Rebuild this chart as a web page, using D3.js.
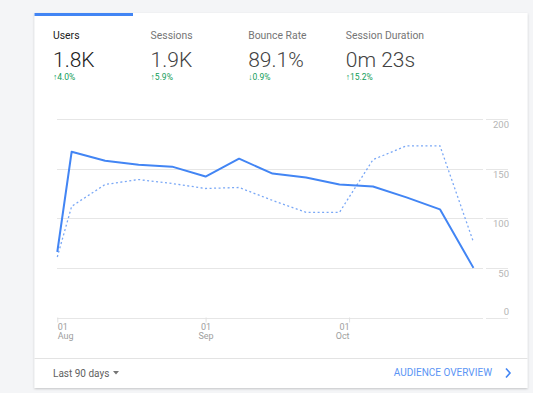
<!DOCTYPE html>
<html>
<head>
<meta charset="utf-8">
<script src="https://cdn.jsdelivr.net/npm/d3@7"></script>
<style>
  body { margin: 0; background: #f4f5f7; }
  svg { display: block; font-family: Roboto, "Noto Sans", sans-serif; }
</style>
</head>
<body>
<svg></svg>
<script>
// metric tiles
const metricNames = ['Users', 'Sessions', 'Bounce Rate', 'Session Duration'];
const metricValues = ['1.8K', '1.9K', '89.1%', '0m 23s'];
const metricChanges = ['4.0%', '5.9%', '0.9%', '15.2%'];
const metricUp = [true, true, false, true];

// weekly points, last 90 days
const dates = ['2019-08-01', '2019-08-04', '2019-08-11', '2019-08-18', '2019-08-25',
  '2019-09-01', '2019-09-08', '2019-09-15', '2019-09-22', '2019-09-29',
  '2019-10-06', '2019-10-13', '2019-10-20', '2019-10-27'];
const usersCurrent = [66, 167, 158, 154, 152, 142, 160, 145, 141, 134, 132, 121, 109, 50];
const usersPrevious = [61, 112, 134, 139, 135, 130, 131, 118, 106, 106, 159, 173, 173, 76];

const yTicks = [0, 50, 100, 150, 200];
const xTicks = ['2019-08-01', '2019-09-01', '2019-10-01'];
const xTickAnchors = ['start', 'middle', 'end'];

const width = 533;
const height = 393;
const svg = d3.select('svg')
  .attr('width', width)
  .attr('height', height);

const parse = d3.timeParse('%Y-%m-%d');

// card
const defs = svg.append('defs');
const shadow = defs.append('filter').attr('id', 'shadow')
  .attr('x', '-5%').attr('y', '-5%').attr('width', '110%').attr('height', '110%');
shadow.append('feDropShadow')
  .attr('dx', 0).attr('dy', 1).attr('stdDeviation', 1)
  .attr('flood-color', '#000').attr('flood-opacity', 0.2);

svg.append('rect')
  .attr('x', 34.5).attr('y', 13)
  .attr('width', 493).attr('height', 375)
  .attr('fill', '#fff')
  .attr('filter', 'url(#shadow)');

svg.append('rect')
  .attr('x', 34.5).attr('y', 13)
  .attr('width', 98.5).attr('height', 3)
  .attr('fill', '#4285f4');

// metric header
const tiles = svg.append('g')
  .selectAll('g')
  .data(metricNames)
  .enter().append('g')
  .attr('transform', (d, i) => `translate(${53 + i * 97.6},0)`);

tiles.append('text')
  .attr('y', 38.5)
  .attr('font-size', 10.4)
  .attr('fill', (d, i) => i === 0 ? '#212121' : '#757575')
  .text(d => d);

tiles.append('text')
  .attr('y', 66.5)
  .attr('font-size', 21)
  .attr('font-weight', 300)
  .attr('fill', (d, i) => i === 0 ? '#212121' : '#424242')
  .text((d, i) => metricValues[i]);

tiles.append('text')
  .attr('y', 80)
  .attr('font-size', 8.5)
  .attr('fill', '#0f9d58')
  .text((d, i) => (metricUp[i] ? '\u2191' : '\u2193') + metricChanges[i]);

// chart
const x = d3.scaleTime()
  .domain([parse('2019-08-01'), parse('2019-10-29')])
  .range([57.3, 483]);

const y = d3.scaleLinear()
  .domain([0, 200])
  .range([317.5, 119]);

const grid = svg.append('g')
  .selectAll('g')
  .data(yTicks)
  .enter().append('g');

grid.append('line')
  .attr('x1', 57).attr('x2', 483)
  .attr('y1', d => Math.round(y(d)) + 0.5)
  .attr('y2', d => Math.round(y(d)) + 0.5)
  .attr('stroke', '#e6e6e6');

grid.append('line')
  .attr('x1', 486).attr('x2', 508)
  .attr('y1', d => Math.round(y(d)) + 0.5)
  .attr('y2', d => Math.round(y(d)) + 0.5)
  .attr('stroke', '#e6e6e6');

grid.append('text')
  .attr('x', 509)
  .attr('y', d => d === 0 ? y(d) - 2.5 : y(d) + 9)
  .attr('text-anchor', 'end')
  .attr('font-size', 9.5)
  .attr('fill', '#b5b5b5')
  .text(d => d);

const xAxis = svg.append('g')
  .attr('transform', 'translate(0,317.5)')
  .call(d3.axisBottom(x)
    .tickValues(xTicks.map(parse))
    .tickSize(5)
    .tickFormat(''));

xAxis.select('.domain').remove();
xAxis.selectAll('.tick line').attr('stroke', '#e0e0e0');

const xLabels = xAxis.selectAll('.tick text')
  .attr('y', 0)
  .attr('dy', null)
  .attr('fill', '#9e9e9e')
  .attr('font-size', 9)
  .attr('font-family', 'Roboto, sans-serif')
  .attr('text-anchor', (d, i) => xTickAnchors[i]);

xLabels.append('tspan')
  .attr('x', 0).attr('y', 12)
  .text(d => d3.timeFormat('%d')(d));
xLabels.append('tspan')
  .attr('x', 0).attr('y', 21.5)
  .text(d => d3.timeFormat('%b')(d));

const line = d3.line()
  .x((d, i) => x(parse(dates[i])))
  .y(d => y(d));

svg.append('path')
  .datum(usersPrevious)
  .attr('d', line)
  .attr('fill', 'none')
  .attr('stroke', '#7aa8f6')
  .attr('stroke-width', 1.3)
  .attr('stroke-dasharray', '2,2.5');

svg.append('path')
  .datum(usersCurrent)
  .attr('d', line)
  .attr('fill', 'none')
  .attr('stroke', '#4285f4')
  .attr('stroke-width', 2)
  .attr('stroke-linejoin', 'round');

// footer
svg.append('line')
  .attr('x1', 34.5).attr('x2', 527.5)
  .attr('y1', 358.5).attr('y2', 358.5)
  .attr('stroke', '#e3e3e3');

svg.append('text')
  .attr('x', 53).attr('y', 376.5)
  .attr('font-size', 10)
  .attr('fill', '#616161')
  .text('Last 90 days');

svg.append('path')
  .attr('d', 'M113,371 L119,371 L116,374.5 Z')
  .attr('fill', '#757575');

svg.append('text')
  .attr('x', 492).attr('y', 376)
  .attr('text-anchor', 'end')
  .attr('font-size', 10)
  .attr('fill', '#5b95f5')
  .text('AUDIENCE OVERVIEW');

svg.append('path')
  .attr('d', 'M506,368.5 L510,373 L506,377.5')
  .attr('fill', 'none')
  .attr('stroke', '#4285f4')
  .attr('stroke-width', 1.6);
</script>
</body>
</html>
